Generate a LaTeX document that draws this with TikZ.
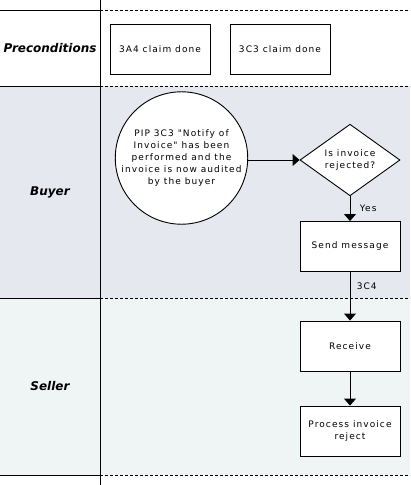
\documentclass[tikz,border=0pt]{standalone}
\usepackage{fontspec}
\setmainfont{DejaVu Sans}
\newfontfamily\boxfont[LetterSpace=12]{DejaVu Sans}
\usetikzlibrary{shapes.geometric,arrows.meta}
\definecolor{buyerfill}{HTML}{E6E8EF}
\definecolor{sellerfill}{HTML}{EFF5F5}
\tikzset{
  txt/.style={font=\boxfont\fontsize{9}{12}\selectfont},
  box/.style={draw,line width=0.9pt,fill=white,minimum width=100pt,minimum height=50pt,inner sep=0pt,align=center,txt},
  lanelabel/.style={font=\fontsize{12}{14}\selectfont\bfseries\itshape},
  solidsep/.style={line width=0.9pt},
  dashsep/.style={line width=0.9pt,dash pattern=on 3pt off 2pt},
  flow/.style={line width=0.9pt,-{Triangle[length=7pt,width=12pt]}},
  lbl/.style={txt}
}
\begin{document}
\begin{tikzpicture}[x=1pt,y=-1pt]
\useasboundingbox (0,0) rectangle (410,485);
\fill[white] (0,0) rectangle (410,485);
\fill[buyerfill] (0,86) rectangle (410,298);
\fill[sellerfill] (0,298) rectangle (410,475);
% separators
\foreach \yy in {10,86,298,475}{
  \draw[solidsep] (0,\yy) -- (100,\yy);
  \draw[dashsep] (100,\yy) -- (410,\yy);
}
\draw[solidsep] (100,0) -- (100,485);
% lane labels
\node[lanelabel] (lpre) at (50,48) {Preconditions};
\node[lanelabel] (lbuy) at (50,192) {Buyer};
\node[lanelabel] (lsel) at (50,386) {Seller};
% preconditions
\node[box] (pa) at (160,49.5) {3A4 claim done};
\node[box] (pb) at (280,49.5) {3C3 claim done};
% buyer
\node[draw,line width=0.9pt,circle,fill=white,minimum size=128pt,inner sep=0pt,align=center,txt] (start) at (181.5,158)
  {PIP 3C3 "Notify of\\Invoice" has been\\performed and the\\invoice is now audited\\by the buyer};
\node[draw,line width=0.9pt,diamond,fill=white,minimum width=100pt,minimum height=49pt,inner sep=0pt,align=center,txt] (dec) at (350,160)
  {Is invoice\\rejected?};
\node[box] (send) at (350,246.5) {Send message};
% seller
\node[box] (recv) at (350,346) {Receive};
\node[box] (proc) at (350,431) {Process invoice\\reject};
% connectors
\draw[flow] (start.east |- dec.west) -- (dec.west);
\draw[flow] (dec.south) -- node[lbl,right,xshift=6pt] {Yes} (send.north);
\draw[flow] (send.south) -- node[lbl,pos=0.3,right,xshift=3pt] {3C4} (recv.north);
\draw[flow] (recv.south) -- (proc.north);
\end{tikzpicture}
\end{document}
